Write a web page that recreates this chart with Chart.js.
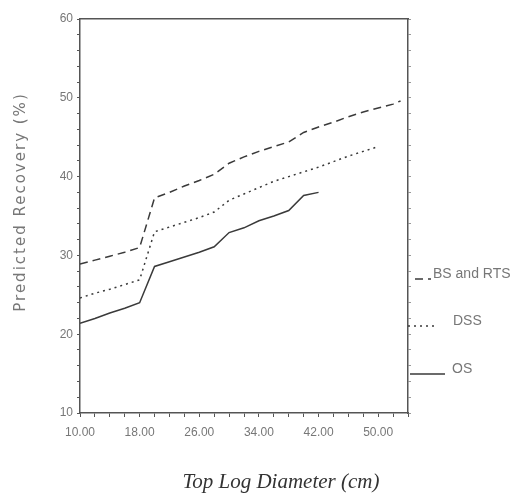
<!DOCTYPE html>
<html lang="en">
<head>
    <meta charset="UTF-8">
    <title>Predicted Recovery</title>
    <style>
        body {
            margin: 0;
            background: #fff;
        }

        canvas {
            display: block;
        }
    </style>
</head>
<body>
    <canvas id="chart" width="518" height="500"></canvas>
    <script src="https://cdn.jsdelivr.net/npm/chart.js"></script>
    <script>
        // values (diameter in cm, recovery in %)
        const bsDiam = [10, 12, 14, 16, 18, 20, 22, 24, 26, 28, 30, 32, 34, 36, 38, 40, 42, 44, 46, 48, 50, 52, 53];
        const bsRecovery = [28.9, 29.4, 29.9, 30.4, 31.0, 37.3, 38.0, 38.8, 39.5, 40.3, 41.7, 42.5, 43.2, 43.8, 44.4, 45.6, 46.3, 46.9, 47.6, 48.2, 48.7, 49.2, 49.6];

        const dssDiam = [10, 12, 14, 16, 18, 20, 22, 24, 26, 28, 30, 32, 34, 36, 38, 40, 42, 44, 46, 48, 50];
        const dssRecovery = [24.6, 25.2, 25.7, 26.3, 26.9, 33.0, 33.6, 34.2, 34.8, 35.5, 37.0, 37.8, 38.6, 39.4, 40.0, 40.6, 41.2, 41.9, 42.6, 43.2, 43.8];

        const osDiam = [10, 12, 14, 16, 18, 20, 22, 24, 26, 28, 30, 32, 34, 36, 38, 40, 42];
        const osRecovery = [21.4, 22.0, 22.7, 23.3, 24.0, 28.6, 29.2, 29.8, 30.4, 31.1, 32.9, 33.5, 34.4, 35.0, 35.7, 37.6, 38.0];

        const seriesNames = ['BS and RTS', 'DSS', 'OS'];
        const xLabelEvery = 8; // 10.00, 18.00, 26.00 ...
        const yLabelEvery = 10;

        const lineColor = '#3a3a3a';
        const axisColor = '#555';
        const textColor = '#777';
        const tickFont = { family: '"Liberation Sans Narrow", "Liberation Sans", Arial, sans-serif', size: 12 };

        function pts(xs, ys) {
            return xs.map((x, i) => ({ x: x, y: ys[i] }));
        }

        const dashes = [[8, 5], [2, 4], []];

        // titles and the legend are hand placed, like the scanned figure
        const decorations = {
            id: 'decorations',
            afterDraw(chart) {
                const ctx = chart.ctx;
                ctx.save();
                ctx.fillStyle = textColor;

                // y axis title
                ctx.save();
                ctx.translate(21, 202);
                ctx.rotate(-Math.PI / 2);
                ctx.font = '15px "DejaVu Sans", sans-serif';
                ctx.letterSpacing = '2px';
                ctx.textAlign = 'center';
                ctx.textBaseline = 'middle';
                ctx.fillText('Predicted Recovery (%)', 0, 0);
                ctx.restore();

                // x axis title
                ctx.fillStyle = '#333';
                ctx.font = 'italic 21px "Liberation Serif", serif';
                ctx.textAlign = 'center';
                ctx.textBaseline = 'middle';
                ctx.fillText('Top Log Diameter (cm)', 281, 482);

                // legend
                const rows = [
                    { y: 274, x0: 415, x1: 431, tx: 433 },
                    { y: 321, x0: 408, x1: 437, tx: 453 },
                    { y: 369, x0: 410, x1: 445, tx: 452 }
                ];
                ctx.font = '14px "Liberation Sans", Arial, sans-serif';
                ctx.textAlign = 'left';
                rows.forEach((r, i) => {
                    ctx.strokeStyle = lineColor;
                    ctx.lineWidth = 1.5;
                    ctx.setLineDash(dashes[i]);
                    ctx.beginPath();
                    ctx.moveTo(r.x0, r.y + 5);
                    ctx.lineTo(r.x1, r.y + 5);
                    ctx.stroke();
                    ctx.setLineDash([]);
                    ctx.fillStyle = textColor;
                    ctx.fillText(chart.data.datasets[i].label, r.tx, r.y);
                });
                ctx.restore();
            }
        };

        new Chart(document.getElementById('chart'), {
            type: 'line',
            data: {
                datasets: [
                    { label: seriesNames[0], data: pts(bsDiam, bsRecovery), borderDash: dashes[0] },
                    { label: seriesNames[1], data: pts(dssDiam, dssRecovery), borderDash: dashes[1] },
                    { label: seriesNames[2], data: pts(osDiam, osRecovery), borderDash: dashes[2] }
                ].map(d => Object.assign(d, {
                    borderColor: lineColor,
                    borderWidth: 1.5,
                    pointRadius: 0,
                    tension: 0,
                    fill: false
                }))
            },
            options: {
                responsive: false,
                animation: false,
                layout: { padding: { left: 0, right: 110, top: 19, bottom: 0 } },
                plugins: {
                    legend: { display: false },
                    tooltip: { enabled: false }
                },
                scales: {
                    x: {
                        type: 'linear',
                        position: 'bottom',
                        min: 10,
                        max: 54,
                        afterFit: s => { s.height = 87; },
                        border: { color: axisColor, width: 1.5 },
                        grid: { drawOnChartArea: false, tickLength: 4, color: axisColor },
                        ticks: {
                            stepSize: 2,
                            autoSkip: false,
                            maxRotation: 0,
                            padding: 8,
                            color: textColor,
                            font: tickFont,
                            callback: v => ((v - 10) % xLabelEvery === 0 && v < 54) ? v.toFixed(2) : ''
                        }
                    },
                    xTop: {
                        type: 'linear',
                        position: 'top',
                        min: 10,
                        max: 54,
                        afterFit: s => { s.height = 0; },
                        border: { color: axisColor, width: 1.5 },
                        grid: { display: false },
                        ticks: { display: false }
                    },
                    y: {
                        min: 10,
                        max: 60,
                        afterFit: s => { s.width = 80; },
                        border: { color: axisColor, width: 1.5 },
                        grid: { drawOnChartArea: false, tickLength: 3, color: axisColor },
                        ticks: {
                            stepSize: 2,
                            autoSkip: false,
                            padding: 4,
                            color: textColor,
                            font: tickFont,
                            callback: v => (v % yLabelEvery === 0) ? v : ''
                        }
                    },
                    yRight: {
                        position: 'right',
                        min: 10,
                        max: 60,
                        afterFit: s => { s.width = 0; },
                        border: { color: axisColor, width: 1.5 },
                        grid: { drawOnChartArea: false, tickLength: 3, color: '#999' },
                        ticks: { display: false, stepSize: 2 }
                    }
                }
            },
            plugins: [decorations]
        });
    </script>
</body>
</html>
